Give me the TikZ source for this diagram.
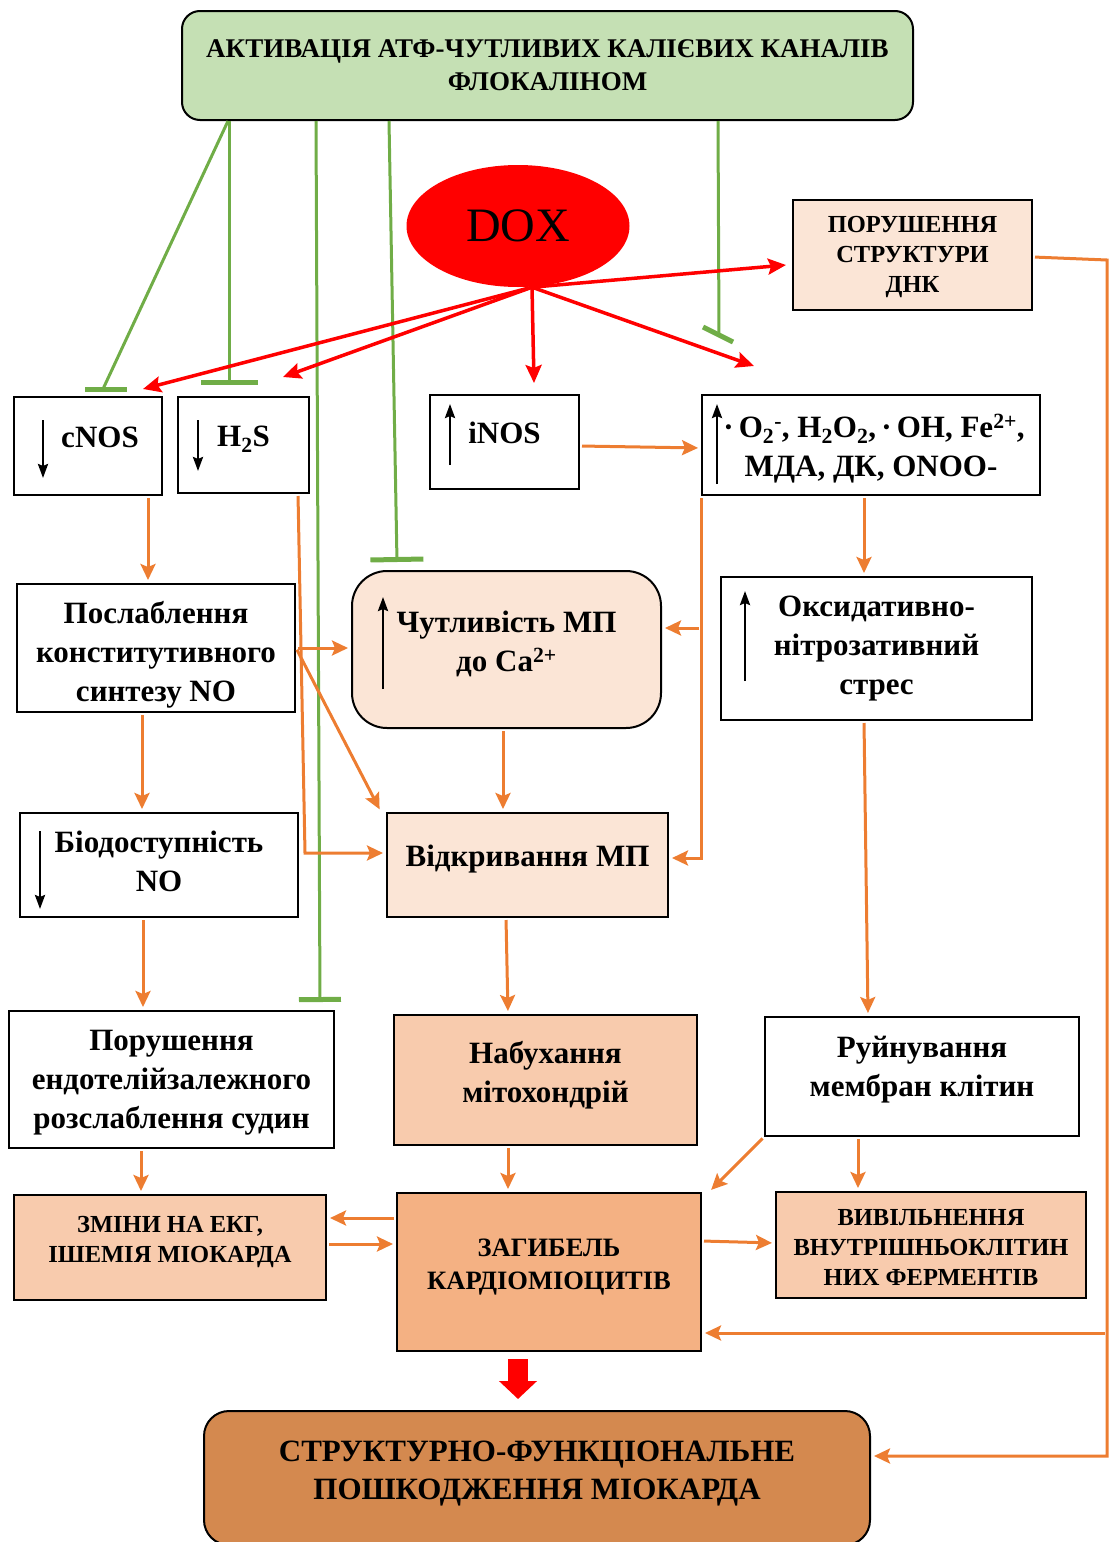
\documentclass[tikz,border=0pt]{standalone}
\usepackage{fontspec}
\setmainfont{Liberation Serif}
\usetikzlibrary{shapes.geometric, arrows, arrows.meta}

\definecolor{actgreen}{HTML}{C5E0B4}
\definecolor{inhgreen}{HTML}{70AD47}
\definecolor{linkorange}{HTML}{ED7D31}
\definecolor{peachA}{HTML}{FBE5D6}
\definecolor{peachB}{HTML}{F8CBAD}
\definecolor{peachC}{HTML}{F4B183}
\definecolor{rust}{HTML}{D4894F}

\tikzstyle{box} = [rectangle, inner sep=0pt, align=center, draw=black, line width=2pt, fill=white, font=\fontsize{31}{39}\selectfont\bfseries]
\tikzstyle{capbox} = [box, font=\fontsize{24.5}{30}\selectfont\bfseries]
\tikzstyle{arrow} = [line width=3pt, draw=linkorange, shorten <=2pt, shorten >=3pt, -{Stealth[length=16pt, width=15pt, inset=3pt]}]
\tikzstyle{doxarrow} = [line width=3.5pt, draw=red, -{Stealth[length=18pt, width=16pt, inset=3pt]}]
\tikzstyle{bar} = [line width=5pt, draw=inhgreen]
\tikzstyle{ind} = [line width=2.5pt, -{Stealth[length=14pt, width=10pt, inset=2pt]}]
\tikzstyle{bigarrow} = [line width=20pt, draw=red, -{Triangle[length=18pt, width=37pt]}]
\tikzset{block/.style={line width=3pt, draw=inhgreen, -{Bar[width=#1, line width=5pt]}}, block/.default=48pt}

\newcommand{\up}[2]{\raisebox{#1}[\height][\depth]{\begin{tabular}{@{}c@{}}#2\end{tabular}}}

\begin{document}
\begin{tikzpicture}[x=1pt, y=-1pt]
	\useasboundingbox (0,0) rectangle (1109,1542);

	% top and DOX
	\node (akt) [box, rounded corners=18pt, fill=actgreen, minimum width=731pt, minimum height=109pt, font=\fontsize{27}{33}\selectfont\bfseries] at (547.5,65.5) {АКТИВАЦІЯ АТФ-ЧУТЛИВИХ КАЛІЄВИХ КАНАЛІВ\\ФЛОКАЛІНОМ};
	\node (dox) [ellipse, fill=red, inner sep=0pt, minimum width=223pt, minimum height=122pt, font=\fontsize{48}{50}\selectfont] at (518,226) {DOX};
	\node (dnk) [capbox, fill=peachA, minimum width=239pt, minimum height=110pt] at (912.5,255) {\up{-1pt}{ПОРУШЕННЯ\\СТРУКТУРИ\\ДНК}};

	% first row
	\node (cnos) [box, minimum width=148pt, minimum height=98pt] at (88,446) {\up{6pt}{\hspace*{24pt}cNOS}};
	\node (hs) [box, minimum width=131pt, minimum height=96pt] at (243.5,445) {\up{6pt}{H\textsubscript{2}S}};
	\node (inos) [box, minimum width=149pt, minimum height=94pt] at (504.5,442) {\up{6pt}{iNOS}};
	\node (ros) [box, minimum width=338pt, minimum height=100pt] at (871,445) {\up{-4pt}{\hspace*{6pt}·\,O\textsubscript{2}\textsuperscript{-}, H\textsubscript{2}O\textsubscript{2},\,·\,OH, Fe\textsuperscript{2+},\\МДА, ДК, ONOO-}};

	% second row
	\node (posl) [box, minimum width=278pt, minimum height=128pt] at (156,648) {\up{-7pt}{Послаблення\\конститутивного\\синтезу NO}};
	\node (chut) [box, rounded corners=35pt, fill=peachA, minimum width=309pt, minimum height=157pt] at (506.5,649.5) {\up{5pt}{Чутливість МП\\до Ca\textsuperscript{2+}}};
	\node (oks) [box, minimum width=311pt, minimum height=143pt] at (876.5,648.5) {Оксидативно-\\нітрозативний\\стрес};

	% third row
	\node (bio) [box, minimum width=278pt, minimum height=104pt] at (159,865) {\up{1pt}{Біодоступність\\NO}};
	\node (vidk) [box, fill=peachA, minimum width=281pt, minimum height=104pt] at (527.5,865) {\up{6pt}{Відкривання МП}};

	% fourth row
	\node (endo) [box, minimum width=325pt, minimum height=137pt] at (171.5,1079.5) {\up{-2pt}{Порушення\\ендотелійзалежного\\розслаблення судин}};
	\node (nabuh) [box, fill=peachB, minimum width=303pt, minimum height=130pt] at (545.5,1080) {\up{5pt}{Набухання\\мітохондрій}};
	\node (ruin) [box, minimum width=314pt, minimum height=119pt] at (922,1076.5) {\up{7pt}{Руйнування\\мембран клітин}};

	% fifth row
	\node (zminy) [capbox, fill=peachB, minimum width=312pt, minimum height=105pt] at (170,1247.5) {\up{6pt}{ЗМІНИ НА ЕКГ,\\ІШЕМІЯ МІОКАРДА}};
	\node (zag) [capbox, fill=peachC, minimum width=304pt, minimum height=158pt, font=\fontsize{26.5}{33}\selectfont\bfseries] at (549,1272) {\up{6pt}{ЗАГИБЕЛЬ\\КАРДІОМІОЦИТІВ}};
	\node (vyvil) [capbox, fill=peachB, minimum width=310pt, minimum height=106pt] at (931,1245) {\up{-4pt}{ВИВІЛЬНЕННЯ\\ВНУТРІШНЬОКЛІТИН\\НИХ ФЕРМЕНТІВ}};

	\node (struct) [box, rounded corners=25pt, fill=rust, minimum width=666pt, minimum height=134pt, font=\fontsize{31}{38}\selectfont\bfseries] at (537,1478) {\up{5pt}{СТРУКТУРНО-ФУНКЦІОНАЛЬНЕ\\ПОШКОДЖЕННЯ МІОКАРДА}};

	% up / down marks inside the boxes
	\draw [ind] (43,420) -- (43,478);
	\draw [ind] (198,420) -- (198,471);
	\draw [ind] (450,465) -- (450,404);
	\draw [ind] (717,484) -- (717,404);
	\draw [ind] (383,689) -- (383,597);
	\draw [ind] (745,681) -- (745,591);
	\draw [ind] (40,831) -- (40,909);

	% flokalin blocks
	\coordinate (cnosinh) at ([xshift=15pt, yshift=7pt]cnos.north);
	\draw [line width=3pt, draw=inhgreen] ([xshift=-319.5pt]akt.south) -- (cnosinh);
	\draw [bar] ([xshift=-18pt]cnosinh) -- ([xshift=24pt]cnosinh);
	\draw [block=57pt] ([xshift=-318.5pt]akt.south) -- ([xshift=-14.5pt, yshift=11pt]hs.north);
	\draw [block=42pt] ([xshift=-231.5pt]akt.south) -- ([xshift=148.5pt, yshift=8pt]endo.north);
	\draw [block=53pt] ([xshift=-158.5pt]akt.south) -- ([xshift=-109.5pt, yshift=8pt]chut.north);
	\coordinate (rosinh) at (719,335);
	\draw [line width=3pt, draw=inhgreen] ([xshift=170.5pt]akt.south) -- (rosinh);
	\draw [bar] ([shift={(-16,-8)}]rosinh) -- ([shift={(14,7)}]rosinh);

	% DOX
	\draw [doxarrow] ([xshift=14pt]dox.south) -- ([xshift=-6pt, yshift=-10pt]dnk.west);
	\draw [doxarrow] ([xshift=14pt]dox.south) -- ([xshift=-20pt, yshift=7pt]cnos.north east);
	\draw [doxarrow] ([xshift=14pt]dox.south) -- ([xshift=-27pt, yshift=19pt]hs.north east);
	\draw [doxarrow] ([xshift=14pt]dox.south) -- ([xshift=29.5pt, yshift=11pt]inos.north);
	\draw [doxarrow] ([xshift=14pt]dox.south) -- ([xshift=53pt, yshift=28pt]ros.north west);

	% left column
	\draw [arrow] ([xshift=60pt]cnos.south) -- ([xshift=-8pt]posl.north);
	\draw [arrow] ([xshift=-14pt]posl.south) -- ([xshift=-17pt]bio.north);
	\draw [arrow] ([xshift=-16pt]bio.south) -- ([xshift=-28.5pt]endo.north);
	\draw [arrow] ([xshift=-30.5pt]endo.south) -- ([xshift=-29pt]zminy.north);
	\draw [arrow] ([xshift=54.5pt]hs.south) -- (305,853) -- ([yshift=12pt]vidk.west);
	\draw [arrow] (posl.east) -- ([yshift=1.5pt]chut.west);
	\draw [arrow] (posl.east) -- ([xshift=-5pt]vidk.north west);

	% right column
	\draw [arrow] ([yshift=-4pt]inos.east) -- ([yshift=-3pt]ros.west);
	\draw [arrow] (ros.south west) |- ([yshift=7pt]vidk.east);
	\coordinate (chutin) at ([yshift=21.5pt]chut.east);
	\draw [arrow] (ros.south west |- chutin) -- (chutin);
	\draw [arrow] ([xshift=-7pt]ros.south) -- ([xshift=-12.5pt]oks.north);
	\draw [arrow] ([xshift=-12.5pt]oks.south) -- ([xshift=-54pt]ruin.north);

	% middle column
	\draw [arrow] ([xshift=-3.5pt]chut.south) -- ([xshift=-24.5pt]vidk.north);
	\draw [arrow] ([xshift=-21.5pt]vidk.south) -- ([xshift=-37.5pt]nabuh.north);
	\draw [arrow] ([xshift=-37.5pt]nabuh.south) -- ([xshift=-41pt]zag.north);
	\draw [arrow] (ruin.south west) -- ([xshift=7pt]zag.north east);
	\draw [arrow] ([xshift=-64pt]ruin.south) -- ([xshift=-73pt]vyvil.north);
	\draw [arrow] ([yshift=54pt]zag.west) -- ([yshift=29.5pt]zminy.east);
	\draw [arrow] ([yshift=3.5pt]zminy.east) -- ([yshift=28pt]zag.west);
	\draw [arrow] ([yshift=31pt]zag.east) -- ([yshift=2pt]vyvil.west);

	% DNK rail
	\coordinate (rail) at (1107,260);
	\draw [arrow] ([yshift=-2pt]dnk.east) -- (rail) |- ([yshift=22pt]struct.east);
	\coordinate (zagin) at ([yshift=-61pt]zag.east);
	\draw [arrow] (rail |- zagin) -- (zagin);

	\draw [bigarrow] ([xshift=-31pt, yshift=-7pt]zag.south) -- ([xshift=-19pt, yshift=11pt]struct.north);
\end{tikzpicture}
\end{document}
